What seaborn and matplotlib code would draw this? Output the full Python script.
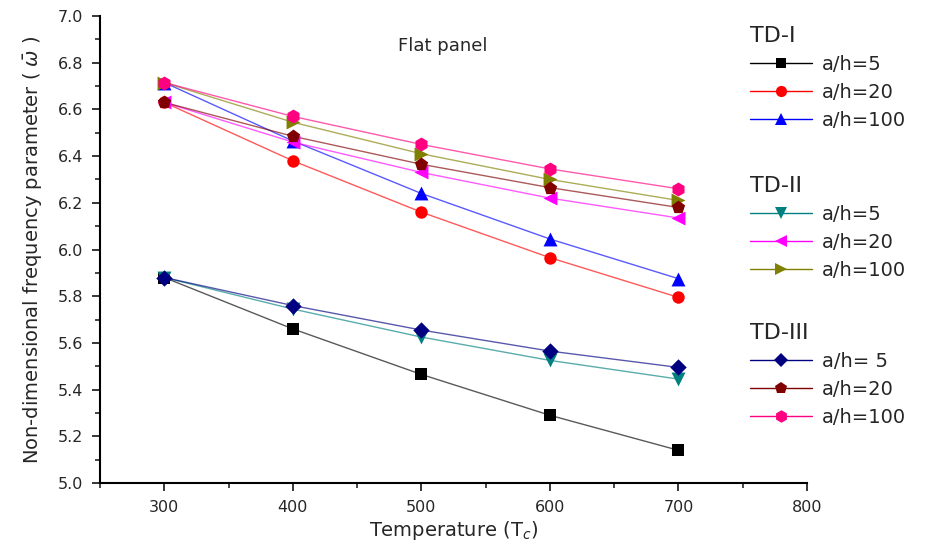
import matplotlib
matplotlib.use("Agg")
import matplotlib.pyplot as plt
from matplotlib.lines import Line2D
from matplotlib.ticker import MultipleLocator
import seaborn as sns
import pandas as pd

temperature = [300, 400, 500, 600, 700]

td1_ah5 = [5.88, 5.66, 5.465, 5.29, 5.14]
td1_ah20 = [6.63, 6.38, 6.16, 5.965, 5.795]
td1_ah100 = [6.715, 6.465, 6.24, 6.045, 5.875]

td2_ah5 = [5.88, 5.745, 5.625, 5.525, 5.445]
td2_ah20 = [6.63, 6.46, 6.33, 6.22, 6.135]
td2_ah100 = [6.715, 6.545, 6.41, 6.30, 6.21]

td3_ah5 = [5.88, 5.76, 5.655, 5.565, 5.495]
td3_ah20 = [6.63, 6.485, 6.365, 6.265, 6.18]
td3_ah100 = [6.715, 6.57, 6.45, 6.345, 6.26]

groups = ["TD-I", "TD-II", "TD-III"]
labels = {
    "TD-I": ["a/h=5", "a/h=20", "a/h=100"],
    "TD-II": ["a/h=5", "a/h=20", "a/h=100"],
    "TD-III": ["a/h= 5", "a/h=20", "a/h=100"],
}
values = {
    "TD-I": [td1_ah5, td1_ah20, td1_ah100],
    "TD-II": [td2_ah5, td2_ah20, td2_ah100],
    "TD-III": [td3_ah5, td3_ah20, td3_ah100],
}
colors = {
    "TD-I": ["#000000", "#ff0000", "#0000ff"],
    "TD-II": ["#008080", "#ff00ff", "#808000"],
    "TD-III": ["#000080", "#800000", "#ff0080"],
}
markers = {
    "TD-I": ["s", "o", "^"],
    "TD-II": ["v", "<", ">"],
    "TD-III": ["D", "p", "h"],
}
msizes = {
    "TD-I": [70, 80, 100],
    "TD-II": [100, 100, 100],
    "TD-III": [70, 100, 100],
}

sns.set_style("white")
plt.rcParams["font.family"] = ["DejaVu Sans"]

fig = plt.figure(figsize=(9.34, 5.46), dpi=100)
ax = fig.add_axes([100 / 934, 1 - 483 / 546, 707 / 934, 467 / 546])

handles_by_group = {}
for g in groups:
    hs = []
    for lab, vals, c, m, s in zip(labels[g], values[g], colors[g], markers[g], msizes[g]):
        df = pd.DataFrame({"T": temperature, "w": vals})
        sns.lineplot(data=df, x="T", y="w", color=c, linewidth=1.0, alpha=0.65, ax=ax)
        sns.scatterplot(data=df, x="T", y="w", color=c, marker=m, s=s, linewidth=0, ax=ax, zorder=3)
        hs.append(Line2D([0], [0], color=c, lw=1.0, alpha=1,
                         marker=m, markersize=(s ** 0.5) * 0.9, markerfacecolor=c,
                         markeredgecolor=c, markeredgewidth=0))
    handles_by_group[g] = hs

ax.set_xlim(250, 800)
ax.set_ylim(5.0, 7.0)
ax.xaxis.set_major_locator(MultipleLocator(100))
ax.xaxis.set_minor_locator(MultipleLocator(50))
ax.yaxis.set_major_locator(MultipleLocator(0.2))
ax.yaxis.set_minor_locator(MultipleLocator(0.1))
ax.yaxis.set_major_formatter(plt.FormatStrFormatter("%.1f"))
ax.tick_params(which="major", direction="out", length=6, width=1.3, labelsize=11.5,
               bottom=True, left=True, pad=6)
ax.tick_params(which="minor", direction="out", length=3.5, width=1.2, bottom=True, left=True)
for side in ["top", "right"]:
    ax.spines[side].set_visible(False)
for side in ["left", "bottom"]:
    ax.spines[side].set_linewidth(1.5)
    ax.spines[side].set_color("black")

ax.set_xlabel(r"Temperature (T$_c$)", fontsize=14, labelpad=3)
ax.set_ylabel(r"Non-dimensional frequency parameter ( $\bar{\omega}$ )", fontsize=14, labelpad=10)
ax.text(0.485, 0.935, "Flat panel", transform=ax.transAxes, ha="center", va="center", fontsize=13)

tops = [26, 176, 323]
for g, top in zip(groups, tops):
    leg = fig.legend(handles_by_group[g], labels[g], title=g, loc="upper left",
                     bbox_to_anchor=(750 / 934, 1 - top / 546), frameon=False,
                     fontsize=14, title_fontsize=16, handlelength=3.2,
                     handletextpad=0.5, labelspacing=0.46, borderpad=0, borderaxespad=0)
    leg._legend_box.align = "left"

fig.savefig("out.png", dpi=100)
